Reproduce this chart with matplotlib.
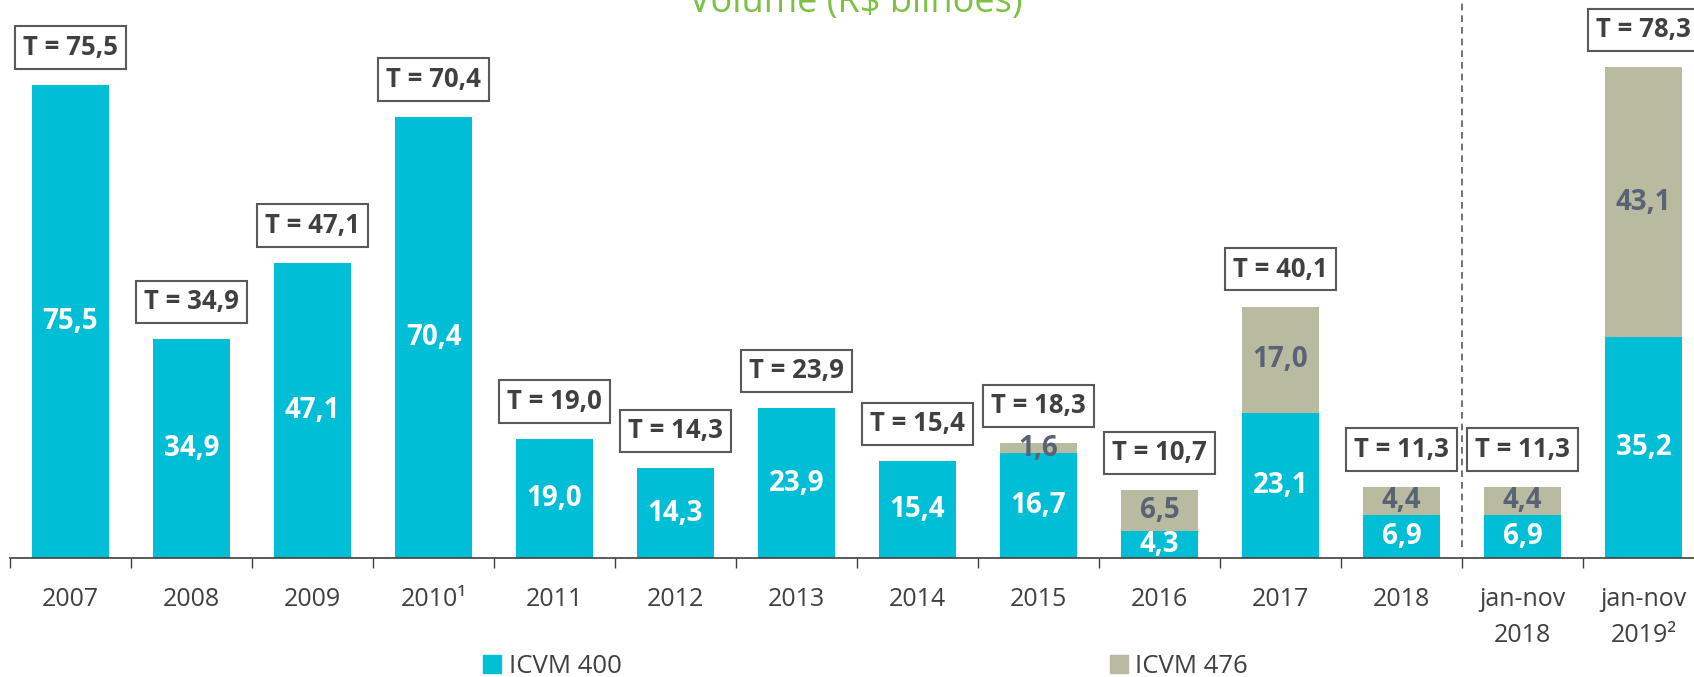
import numpy as np
import matplotlib.pyplot as plt
from matplotlib.patches import Patch

plt.rcParams['font.family'] = ['Open Sans', 'DejaVu Sans']

# data
categories = ["2007", "2008", "2009", "2010\u00b9", "2011", "2012", "2013", "2014",
              "2015", "2016", "2017", "2018", "jan-nov\n2018", "jan-nov\n2019\u00b2"]
icvm400 = [75.5, 34.9, 47.1, 70.4, 19.0, 14.3, 23.9, 15.4, 16.7, 4.3, 23.1, 6.9, 6.9, 35.2]
icvm476 = [0, 0, 0, 0, 0, 0, 0, 0, 1.6, 6.5, 17.0, 4.4, 4.4, 43.1]
totals = [75.5, 34.9, 47.1, 70.4, 19.0, 14.3, 23.9, 15.4, 18.3, 10.7, 40.1, 11.3, 11.3, 78.3]

cyan = '#00BED6'
olive = '#B8BBA0'
dark = '#404040'
gray_txt = '#5A6275'


def fmt(v):
    return f"{v:.1f}".replace('.', ',')


fig = plt.figure(figsize=(16.94, 6.77), dpi=100)
ax = fig.add_axes([10 / 1694, 119 / 677, 1.0, 564 / 677])

x = np.arange(len(categories))
w = 0.63
b1 = ax.bar(x, icvm400, w, color=cyan, label='ICVM 400')
b2 = ax.bar(x, icvm476, w, bottom=icvm400, color=olive, label='ICVM 476')

ax.set_xlim(-0.5, 13.5)
ax.set_ylim(0, 90)

# value labels inside the bars
for i in range(len(x)):
    ax.text(x[i], icvm400[i] / 2, fmt(icvm400[i]), ha='center', va='center',
            color='white', fontsize=20, fontweight='bold', clip_on=True)
    if icvm476[i] > 0:
        ax.text(x[i], icvm400[i] + icvm476[i] / 2, fmt(icvm476[i]), ha='center',
                va='center', color=gray_txt, fontsize=20, fontweight='bold')
    # total boxes
    ax.annotate("T = " + fmt(totals[i]), (x[i], icvm400[i] + icvm476[i]),
                xytext=(0, 27), textcoords='offset points', ha='center', va='center',
                fontsize=18.5, fontweight='bold', color=dark, annotation_clip=False,
                bbox=dict(boxstyle='square,pad=0.3', fc='white', ec='#595959', lw=1.5))

# separator between yearly and jan-nov figures
ax.axvline(11.5, ymin=0.02, ymax=1.05, color='#595959', ls=(0, (4, 3)), lw=1.2,
           clip_on=False)

# axes styling
for s in ['top', 'right', 'left']:
    ax.spines[s].set_visible(False)
ax.spines['bottom'].set_color(dark)
ax.spines['bottom'].set_linewidth(1.2)
ax.set_yticks([])
ax.set_xticks(np.arange(-0.5, 14, 1))
ax.set_xticklabels([])
ax.tick_params(axis='x', which='major', length=7, width=1, color=dark)
ax.set_xticks(x, categories, minor=True)
ax.tick_params(axis='x', which='minor', length=0, pad=21, labelsize=18,
               labelcolor=dark)
for lab in ax.get_xticklabels(minor=True):
    lab.set_linespacing(1.55)

fig.text(0.5053, 0.983, "Volume (R$ bilhões)", ha='center', va='baseline',
         fontsize=26, color='#7DC142')

handles = [Patch(color=cyan, label='ICVM 400'), Patch(color=olive, label='ICVM 476')]
fig.legend(handles=handles, loc='center', bbox_to_anchor=(0.511, 0.0162), ncol=2,
           frameon=False, fontsize=18.5, labelcolor=dark, columnspacing=19,
           handlelength=0.7, handleheight=0.7, handletextpad=0.3)

fig.savefig('out.png', dpi=100)
